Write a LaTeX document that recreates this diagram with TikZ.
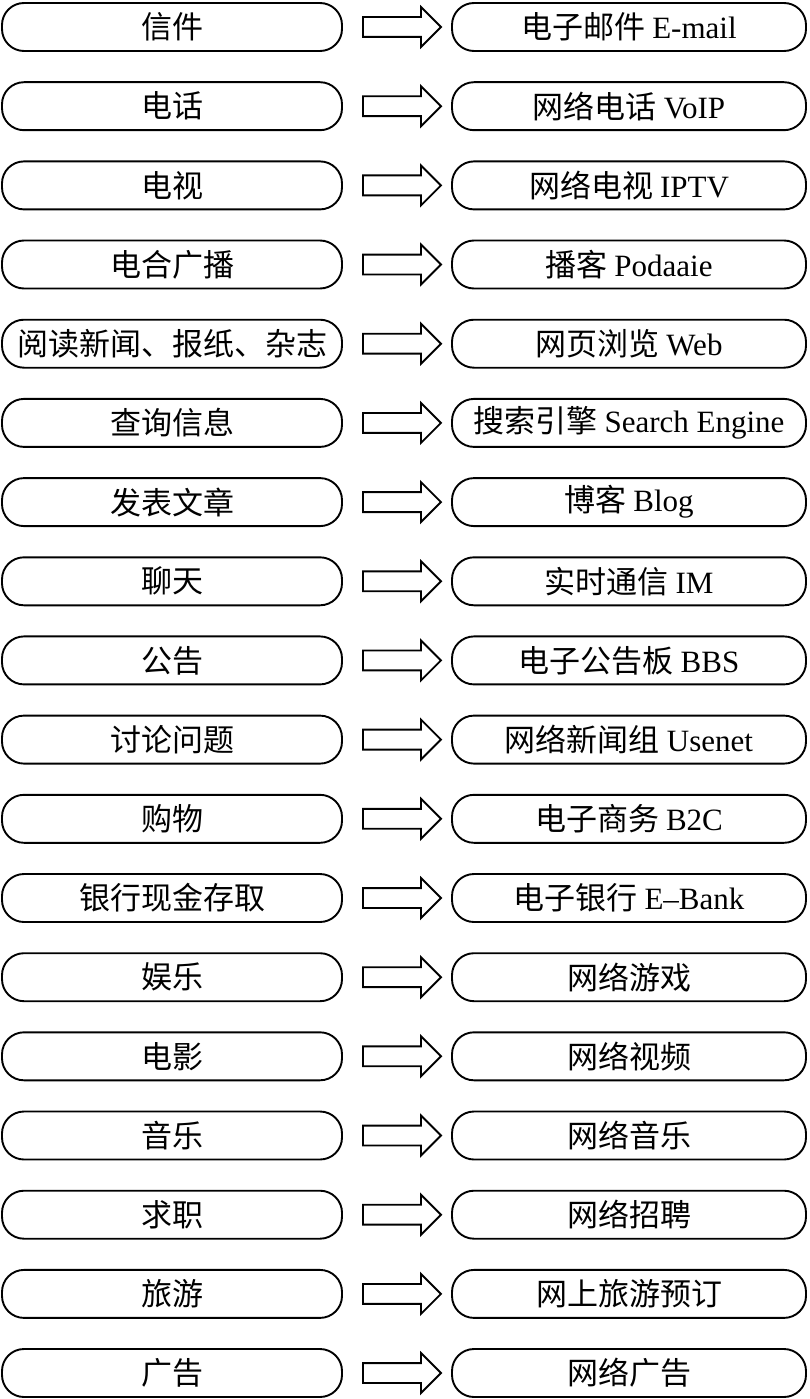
\documentclass[tikz,border=0pt]{standalone}
\usepackage{fontspec}
\setmainfont{Liberation Serif}
\newfontfamily\zh{Noto Sans CJK SC}
\usetikzlibrary{shapes.arrows}

\begin{document}
\begin{tikzpicture}[
    x=1pt,
    y=1pt,
    line width=1.9pt,
    font=\fontsize{31}{36}\selectfont,
    oldbox/.style={
        rectangle,
        draw,
        rounded corners=22pt,
        minimum height=48pt,
        minimum width=340pt,
        inner sep=0pt
    },
    netbox/.style={
        oldbox,
        minimum width=354pt
    },
    fatarrow/.style={
        single arrow,
        draw,
        minimum height=78pt,
        single arrow head extend=10pt,
        inner xsep=0pt,
        inner ysep=9pt
    }
]

\useasboundingbox (0,0) rectangle (809,-1399);

\node[oldbox] (old1) at (172,-27) {\zh 信件};
\node[netbox] (net1) at (629,-27) {\zh 电子邮件 \rmfamily E-mail};

\node[oldbox] (old2) at (172,-106.2) {\zh 电话};
\node[netbox] (net2) at (629,-106.2) {\zh 网络电话 \rmfamily VoIP};

\node[oldbox] (old3) at (172,-185.4) {\zh 电视};
\node[netbox] (net3) at (629,-185.4) {\zh 网络电视 \rmfamily IPTV};

\node[oldbox] (old4) at (172,-264.5) {\zh 电合广播};
\node[netbox] (net4) at (629,-264.5) {\zh 播客 \rmfamily Podaaie};

\node[oldbox] (old5) at (172,-343.7) {\zh 阅读新闻、报纸、杂志};
\node[netbox] (net5) at (629,-343.7) {\zh 网页浏览 \rmfamily Web};

\node[oldbox] (old6) at (172,-422.9) {\zh 查询信息};
\node[netbox] (net6) at (629,-422.9) {\zh 搜索引擎 \rmfamily Search Engine};

\node[oldbox] (old7) at (172,-502.1) {\zh 发表文章};
\node[netbox] (net7) at (629,-502.1) {\zh 博客 \rmfamily Blog};

\node[oldbox] (old8) at (172,-581.3) {\zh 聊天};
\node[netbox] (net8) at (629,-581.3) {\zh 实时通信 \rmfamily IM};

\node[oldbox] (old9) at (172,-660.4) {\zh 公告};
\node[netbox] (net9) at (629,-660.4) {\zh 电子公告板 \rmfamily BBS};

\node[oldbox] (old10) at (172,-739.6) {\zh 讨论问题};
\node[netbox] (net10) at (629,-739.6) {\zh 网络新闻组 \rmfamily Usenet};

\node[oldbox] (old11) at (172,-818.8) {\zh 购物};
\node[netbox] (net11) at (629,-818.8) {\zh 电子商务 \rmfamily B2C};

\node[oldbox] (old12) at (172,-898) {\zh 银行现金存取};
\node[netbox] (net12) at (629,-898) {\zh 电子银行 \rmfamily E--Bank};

\node[oldbox] (old13) at (172,-977.2) {\zh 娱乐};
\node[netbox] (net13) at (629,-977.2) {\zh 网络游戏};

\node[oldbox] (old14) at (172,-1056.3) {\zh 电影};
\node[netbox] (net14) at (629,-1056.3) {\zh 网络视频};

\node[oldbox] (old15) at (172,-1135.5) {\zh 音乐};
\node[netbox] (net15) at (629,-1135.5) {\zh 网络音乐};

\node[oldbox] (old16) at (172,-1214.7) {\zh 求职};
\node[netbox] (net16) at (629,-1214.7) {\zh 网络招聘};

\node[oldbox] (old17) at (172,-1293.9) {\zh 旅游};
\node[netbox] (net17) at (629,-1293.9) {\zh 网上旅游预订};

\node[oldbox] (old18) at (172,-1373) {\zh 广告};
\node[netbox] (net18) at (629,-1373) {\zh 网络广告};

% old way => internet way
\path (old1) -- node[fatarrow] (go1) {} (net1);
\path (old2) -- node[fatarrow] (go2) {} (net2);
\path (old3) -- node[fatarrow] (go3) {} (net3);
\path (old4) -- node[fatarrow] (go4) {} (net4);
\path (old5) -- node[fatarrow] (go5) {} (net5);
\path (old6) -- node[fatarrow] (go6) {} (net6);
\path (old7) -- node[fatarrow] (go7) {} (net7);
\path (old8) -- node[fatarrow] (go8) {} (net8);
\path (old9) -- node[fatarrow] (go9) {} (net9);
\path (old10) -- node[fatarrow] (go10) {} (net10);
\path (old11) -- node[fatarrow] (go11) {} (net11);
\path (old12) -- node[fatarrow] (go12) {} (net12);
\path (old13) -- node[fatarrow] (go13) {} (net13);
\path (old14) -- node[fatarrow] (go14) {} (net14);
\path (old15) -- node[fatarrow] (go15) {} (net15);
\path (old16) -- node[fatarrow] (go16) {} (net16);
\path (old17) -- node[fatarrow] (go17) {} (net17);
\path (old18) -- node[fatarrow] (go18) {} (net18);

\end{tikzpicture}
\end{document}
